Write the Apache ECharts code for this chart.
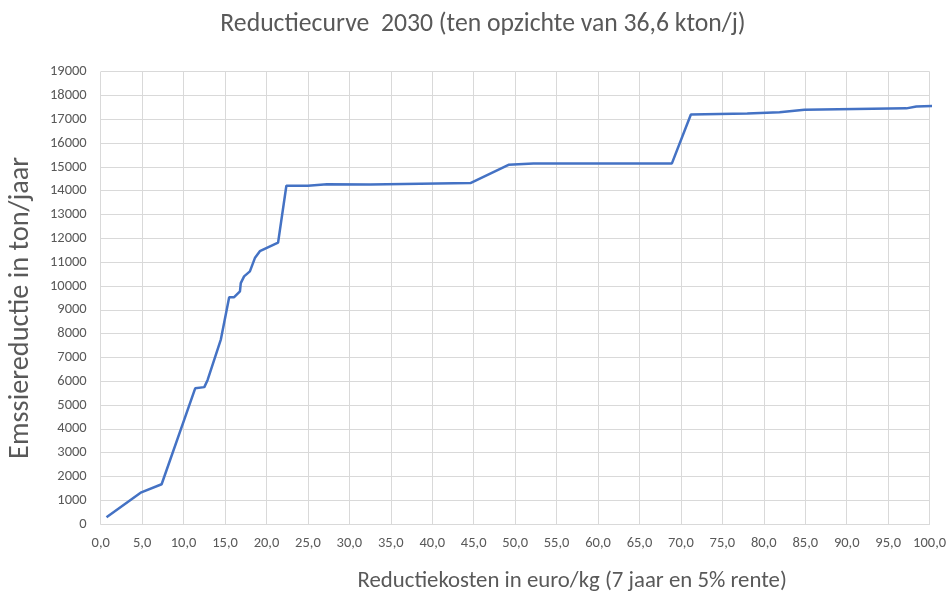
<!DOCTYPE html>
<html>
<head>
<meta charset="utf-8">
<script src="https://cdn.jsdelivr.net/npm/echarts@6/dist/echarts.min.js"></script>
<style>html,body{margin:0;padding:0;background:#fff}#c{width:947px;height:592px}</style>
</head>
<body>
<div id="c"></div>
<script>
const costs = [0.7, 4.9, 7.35, 11.4, 12.5, 12.9, 14.5, 15.5, 16.1, 16.8, 16.9, 17.3, 18.0, 18.6, 19.2, 21.4, 22.4, 25.0, 27.3, 32.5, 44.6, 49.2, 52.2, 68.9, 71.2, 78.0, 81.9, 84.9, 97.2, 98.4, 103.0];
const reduction = [280, 1330, 1670, 5700, 5750, 6050, 7760, 9530, 9530, 9770, 10120, 10400, 10610, 11170, 11460, 11820, 14210, 14210, 14270, 14260, 14320, 15090, 15140, 15140, 17200, 17240, 17300, 17400, 17460, 17540, 17580];
const title = 'Reductiecurve  2030 (ten opzichte van 36,6 kton/j)';
const xName = 'Reductiekosten in euro/kg (7 jaar en 5% rente)';
const yName = 'Emssiereductie in ton/jaar';

const font = 'Calibri, Carlito, "Open Sans", sans-serif';
const chart = echarts.init(document.getElementById('c'));
chart.setOption({
  animation: false,
  title: {text: title, left: 478, top: 7, textAlign: 'center',
    textStyle: {fontFamily: font, fontSize: 25.7, fontWeight: 'normal', color: '#595959'}},
  grid: {left: 100.7, right: 17.4, top: 71.7, bottom: 68, containLabel: false, outerBoundsMode: 'none'},
  xAxis: {
    type: 'value', min: 0, max: 100, interval: 5,
    name: xName, nameLocation: 'middle', nameGap: 46,
    nameTextStyle: {fontFamily: font, fontSize: 22.8, color: '#595959', padding: [0, 0, 0, 114]},
    axisLine: {show: true, lineStyle: {color: '#d9d9d9', width: 1}},
    axisTick: {show: false},
    splitLine: {show: true, lineStyle: {color: '#d9d9d9', width: 1}},
    axisLabel: {fontFamily: font, fontSize: 14.5, color: '#595959', margin: 12,
      formatter: v => v.toFixed(1).replace('.', ',')}
  },
  yAxis: {
    type: 'value', min: 0, max: 19000, interval: 1000,
    name: yName, nameLocation: 'middle', nameGap: 66,
    nameTextStyle: {fontFamily: font, fontSize: 28.3, color: '#595959', padding: [0, 20, 0, 0]},
    axisLine: {show: false}, axisTick: {show: false},
    splitLine: {show: true, lineStyle: {color: '#d9d9d9', width: 1}},
    axisLabel: {fontFamily: font, fontSize: 14.5, color: '#595959', margin: 14,
      formatter: v => String(v)}
  },
  series: [{
    type: 'line', data: costs.map((c, i) => [c, reduction[i]]),
    showSymbol: false, clip: false,
    lineStyle: {color: '#4472C4', width: 2.5}
  }]
});
</script>
</body>
</html>
